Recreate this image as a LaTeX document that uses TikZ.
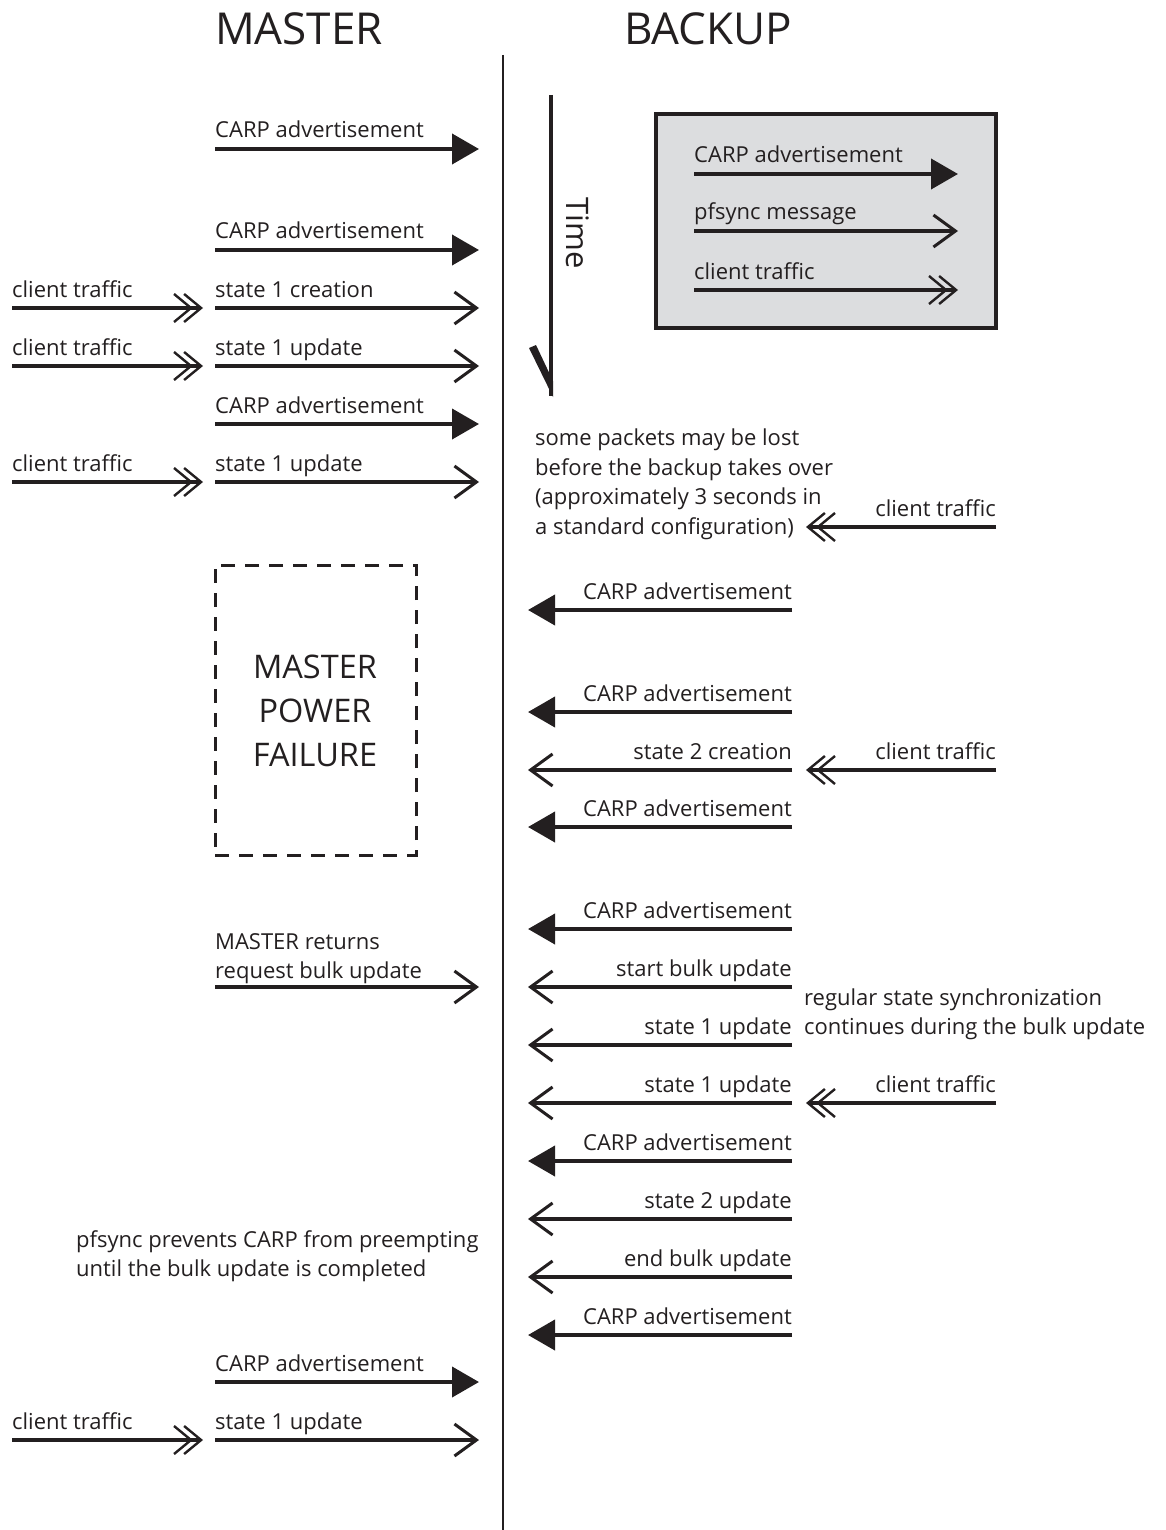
\documentclass[tikz,border=0pt]{standalone}
\usepackage{fontspec}
\setmainfont{Open Sans}
\usetikzlibrary{arrows.meta}
\definecolor{ink}{HTML}{231F20}
\definecolor{legendgray}{HTML}{DCDDDF}
\tikzset{
  lbl/.style={inner sep=0pt, text=ink, font=\fontsize{22}{29.5}\selectfont},
  head/.style={inner sep=0pt, text=ink, font=\fontsize{44}{50}\selectfont},
  boxtxt/.style={inner sep=0pt, text=ink, font=\fontsize{32.5}{44}\selectfont, align=center},
  carp/.style={draw=ink, line width=4pt, -{Triangle[length=27pt,width=30pt]}},
  msg/.style={draw=ink, line width=3.5pt, -{Straight Barb[length=22pt,width=32pt,line width=3pt]}},
  cli/.style={draw=ink, line width=3.5pt, -{Straight Barb[length=17pt,width=28pt,line width=2.4pt,sep=-10pt]Straight Barb[length=17pt,width=28pt,line width=2.4pt]}},
}
\begin{document}
\begin{tikzpicture}[x=1pt,y=-1pt]
\useasboundingbox (0,0) rectangle (1166,1530);
% headers
\node[head, anchor=base] (hm) at (299,45) {MASTER};
\node[head, anchor=base] (hb) at (708,45) {BACKUP};
% center line
\coordinate (ctop) at (503,55);
\coordinate (cbot) at (503,1530);
\draw[ink, line width=2.5pt] (ctop) -- (cbot);
% time arrow
\coordinate (ttop) at (551,95);
\coordinate (ttip) at (551,396);
\draw[ink, line width=4pt] (ttop) -- (ttip);
\fill[ink] (553,397) -- (529,348) -- (536,345) -- (553,381) -- cycle;
\node[lbl, rotate=-90, font=\fontsize{31}{34}\selectfont] (time) at (578,233) {Time};
% legend box
\node[draw=ink, fill=legendgray, line width=3.5pt, minimum width=340pt, minimum height=214pt, inner sep=0pt] (legend) at (826,221) {};
\coordinate (lg1s) at (694,174); \coordinate (lg1e) at (958,174);
\coordinate (lg2s) at (694,231); \coordinate (lg2e) at (958,231);
\coordinate (lg3s) at (694,290); \coordinate (lg3e) at (958,290);
\draw[carp] (lg1s) -- (lg1e);
\draw[msg] (lg2s) -- (lg2e);
\draw[cli] (lg3s) -- (lg3e);
\node[lbl, anchor=base west] (lg1t) at (694,163) {CARP advertisement};
\node[lbl, anchor=base west] (lg2t) at (694,220) {pfsync message};
\node[lbl, anchor=base west] (lg3t) at (694,279) {client traffic};
% ---------- MASTER side, top ----------
\coordinate (m1s) at (215,149); \coordinate (m1e) at (479,149);
\draw[carp] (m1s) -- (m1e);
\node[lbl, anchor=base west] (m1t) at (215,138) {CARP advertisement};
\coordinate (m2s) at (215,250); \coordinate (m2e) at (479,250);
\draw[carp] (m2s) -- (m2e);
\node[lbl, anchor=base west] (m2t) at (215,239) {CARP advertisement};
% row 3
\coordinate (c3s) at (12,308); \coordinate (c3e) at (203,308);
\draw[cli] (c3s) -- (c3e);
\node[lbl, anchor=base west] (c3t) at (12,297) {client traffic};
\coordinate (m3s) at (215,308); \coordinate (m3e) at (479,308);
\draw[msg] (m3s) -- (m3e);
\node[lbl, anchor=base west] (m3t) at (215,297) {state 1 creation};
% row 4
\coordinate (c4s) at (12,366); \coordinate (c4e) at (203,366);
\draw[cli] (c4s) -- (c4e);
\node[lbl, anchor=base west] (c4t) at (12,355) {client traffic};
\coordinate (m4s) at (215,366); \coordinate (m4e) at (479,366);
\draw[msg] (m4s) -- (m4e);
\node[lbl, anchor=base west] (m4t) at (215,355) {state 1 update};
% row 5
\coordinate (m5s) at (215,424); \coordinate (m5e) at (479,424);
\draw[carp] (m5s) -- (m5e);
\node[lbl, anchor=base west] (m5t) at (215,413) {CARP advertisement};
% row 6
\coordinate (c6s) at (12,482); \coordinate (c6e) at (203,482);
\draw[cli] (c6s) -- (c6e);
\node[lbl, anchor=base west] (c6t) at (12,471) {client traffic};
\coordinate (m6s) at (215,482); \coordinate (m6e) at (479,482);
\draw[msg] (m6s) -- (m6e);
\node[lbl, anchor=base west] (m6t) at (215,471) {state 1 update};
% lost packets note
\node[lbl, anchor=base west] (lost1) at (535,445) {some packets may be lost};
\node[lbl, anchor=base west] (lost2) at (535,475) {before the backup takes over};
\node[lbl, anchor=base west] (lost3) at (535,504) {(approximately 3 seconds in};
\node[lbl, anchor=base west] (lost4) at (535,534) {a standard configuration)};
\coordinate (cb1s) at (996,527); \coordinate (cb1e) at (806,527);
\draw[cli] (cb1s) -- (cb1e);
\node[lbl, anchor=base east] (cb1t) at (996,516) {client traffic};
% master power failure
\node[draw=ink, line width=3pt, dash pattern=on 14pt off 10pt, minimum width=201pt, minimum height=290pt, inner sep=0pt] (fail) at (315.5,710) {};
\node[boxtxt, anchor=base] (failt1) at (315,678) {MASTER};
\node[boxtxt, anchor=base] (failt2) at (315,722) {POWER};
\node[boxtxt, anchor=base] (failt3) at (315,766) {FAILURE};
% ---------- BACKUP side ----------
\coordinate (b1s) at (792,610); \coordinate (b1e) at (528,610);
\draw[carp] (b1s) -- (b1e);
\node[lbl, anchor=base east] (b1t) at (792,599) {CARP advertisement};
\coordinate (b2s) at (792,712); \coordinate (b2e) at (528,712);
\draw[carp] (b2s) -- (b2e);
\node[lbl, anchor=base east] (b2t) at (792,701) {CARP advertisement};
\coordinate (b3s) at (792,770); \coordinate (b3e) at (528,770);
\draw[msg] (b3s) -- (b3e);
\node[lbl, anchor=base east] (b3t) at (792,759) {state 2 creation};
\coordinate (cb2s) at (996,770); \coordinate (cb2e) at (806,770);
\draw[cli] (cb2s) -- (cb2e);
\node[lbl, anchor=base east] (cb2t) at (996,759) {client traffic};
\coordinate (b4s) at (792,827); \coordinate (b4e) at (528,827);
\draw[carp] (b4s) -- (b4e);
\node[lbl, anchor=base east] (b4t) at (792,816) {CARP advertisement};
\coordinate (b5s) at (792,929); \coordinate (b5e) at (528,929);
\draw[carp] (b5s) -- (b5e);
\node[lbl, anchor=base east] (b5t) at (792,918) {CARP advertisement};
% master returns
\node[lbl, anchor=base west] (ret1) at (215,949) {MASTER returns};
\node[lbl, anchor=base west] (ret2) at (215,978) {request bulk update};
\coordinate (m7s) at (215,987); \coordinate (m7e) at (479,987);
\draw[msg] (m7s) -- (m7e);
\coordinate (b6s) at (792,987); \coordinate (b6e) at (528,987);
\draw[msg] (b6s) -- (b6e);
\node[lbl, anchor=base east] (b6t) at (792,976) {start bulk update};
\node[lbl, anchor=base west] (reg1) at (804,1005) {regular state synchronization};
\node[lbl, anchor=base west] (reg2) at (804,1034) {continues during the bulk update};
\coordinate (b7s) at (792,1045); \coordinate (b7e) at (528,1045);
\draw[msg] (b7s) -- (b7e);
\node[lbl, anchor=base east] (b7t) at (792,1034) {state 1 update};
\coordinate (b8s) at (792,1103); \coordinate (b8e) at (528,1103);
\draw[msg] (b8s) -- (b8e);
\node[lbl, anchor=base east] (b8t) at (792,1092) {state 1 update};
\coordinate (cb3s) at (996,1103); \coordinate (cb3e) at (806,1103);
\draw[cli] (cb3s) -- (cb3e);
\node[lbl, anchor=base east] (cb3t) at (996,1092) {client traffic};
\coordinate (b9s) at (792,1161); \coordinate (b9e) at (528,1161);
\draw[carp] (b9s) -- (b9e);
\node[lbl, anchor=base east] (b9t) at (792,1150) {CARP advertisement};
\coordinate (b10s) at (792,1219); \coordinate (b10e) at (528,1219);
\draw[msg] (b10s) -- (b10e);
\node[lbl, anchor=base east] (b10t) at (792,1208) {state 2 update};
\coordinate (b11s) at (792,1277); \coordinate (b11e) at (528,1277);
\draw[msg] (b11s) -- (b11e);
\node[lbl, anchor=base east] (b11t) at (792,1266) {end bulk update};
\coordinate (b12s) at (792,1335); \coordinate (b12e) at (528,1335);
\draw[carp] (b12s) -- (b12e);
\node[lbl, anchor=base east] (b12t) at (792,1324) {CARP advertisement};
% pfsync note
\node[lbl, anchor=base west] (pf1) at (76,1247) {pfsync prevents CARP from preempting};
\node[lbl, anchor=base west] (pf2) at (76,1276) {until the bulk update is completed};
% bottom rows
\coordinate (m8s) at (215,1382); \coordinate (m8e) at (479,1382);
\draw[carp] (m8s) -- (m8e);
\node[lbl, anchor=base west] (m8t) at (215,1371) {CARP advertisement};
\coordinate (c9s) at (12,1440); \coordinate (c9e) at (203,1440);
\draw[cli] (c9s) -- (c9e);
\node[lbl, anchor=base west] (c9t) at (12,1429) {client traffic};
\coordinate (m9s) at (215,1440); \coordinate (m9e) at (479,1440);
\draw[msg] (m9s) -- (m9e);
\node[lbl, anchor=base west] (m9t) at (215,1429) {state 1 update};
\end{tikzpicture}
\end{document}
